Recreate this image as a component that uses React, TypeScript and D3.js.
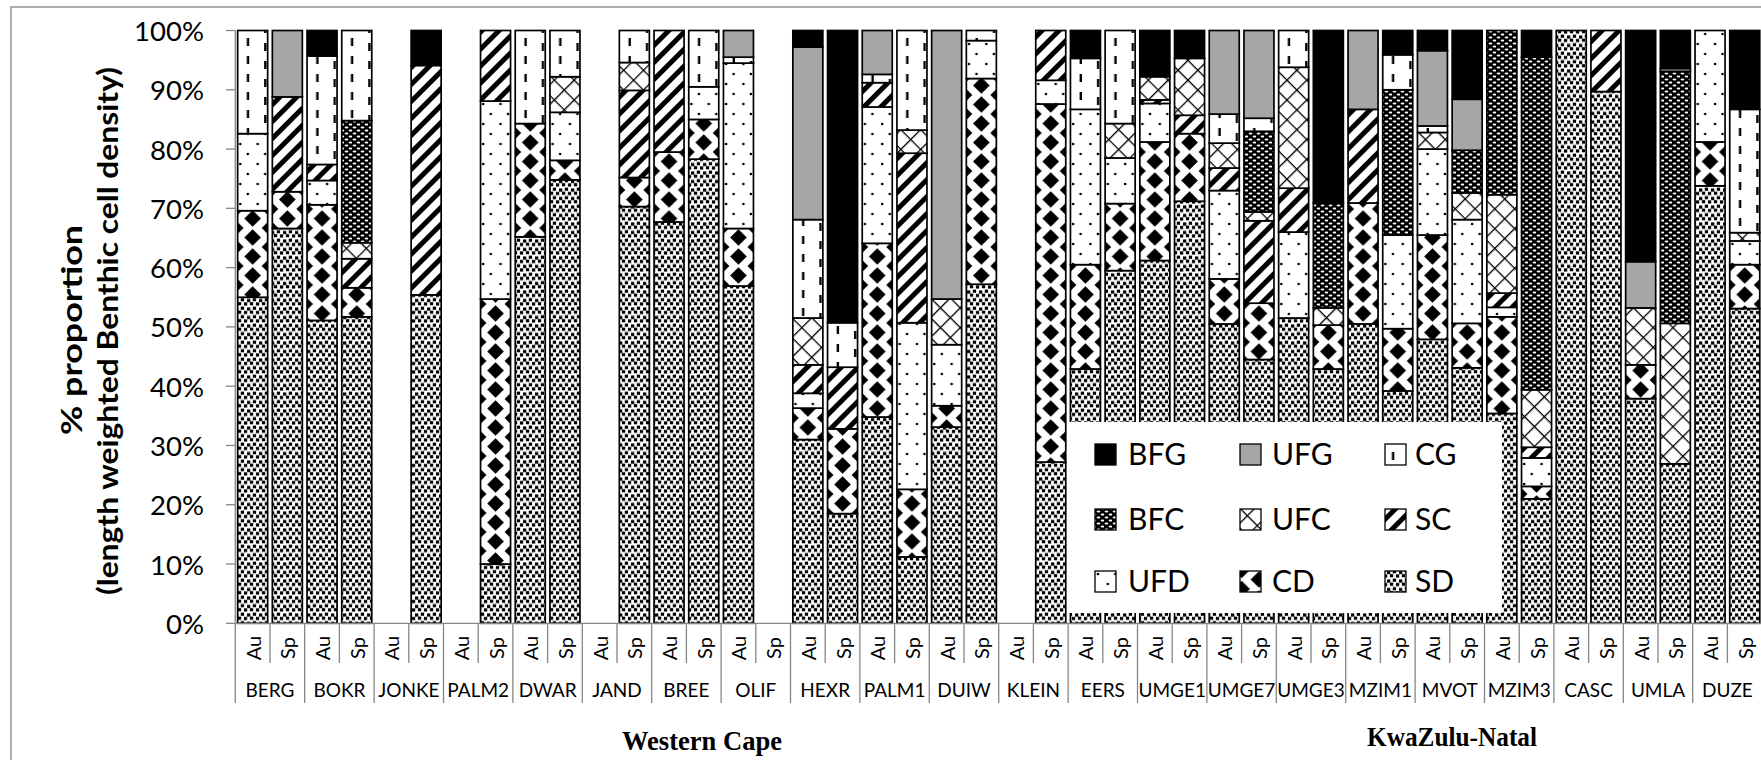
import React from "react";
import * as d3 from "d3";

// Sites along the x axis, each sampled in autumn (Au) and spring (Sp)
const sites = [
  "BERG", "BOKR", "JONKE", "PALM2", "DWAR", "JAND", "BREE", "OLIF", "HEXR", "PALM1", "DUIW",
  "KLEIN", "EERS", "UMGE1", "UMGE7", "UMGE3", "MZIM1", "MVOT", "MZIM3", "CASC", "UMLA", "DUZE",
];
const seasons = ["Au", "Sp"];

// Percent of length-weighted benthic cell density per functional group.
// One value per bar, in site order, Au then Sp.
const SD = [55, 66.6, 51.1, 51.7, 0, 55.4, 0, 10, 65.2, 74.8, 0, 70.3, 67.7, 78.3, 56.9, 0, 31, 18.5, 34.8, 11.2, 33.1, 57.2, 0, 27.2, 42.9, 59.5, 61.2, 71.2, 50.5, 44.5, 51.5, 42.9, 50.5, 39.2, 47.9, 43.1, 35.4, 21, 100, 89.7, 37.9, 26.9, 73.8, 53.1];
const CD = [14.6, 6.2, 19.5, 4.9, 0, 0, 0, 44.7, 19.1, 3.3, 0, 4.9, 11.8, 6.7, 9.7, 0, 5.3, 14.3, 29.3, 11.4, 3.6, 34.7, 0, 60.4, 17.6, 11.3, 20, 11.4, 7.6, 9.5, 0, 7.4, 20.4, 10.5, 17.6, 7.5, 16.3, 2.1, 0, 0, 5.7, 0, 7.4, 7.4];
const UFD = [13, 0, 4.1, 0, 0, 0, 0, 33.4, 0, 8.1, 0, 0, 0, 5.5, 27.9, 0, 2.5, 0, 23, 28.1, 10.3, 6.4, 0, 4, 26.2, 7.7, 6.5, 0, 14.9, 0, 14.5, 0, 0, 15.8, 14.5, 17.5, 1.6, 4.8, 0, 0, 0, 0, 18.8, 4];
const SC = [0, 16, 2.7, 4.9, 0, 38.7, 0, 11.9, 0, 0, 0, 14.7, 20.5, 0, 0, 0, 4.8, 10.4, 4.1, 28.6, 0, 0, 0, 8.4, 0, 0, 0.6, 3.1, 3.8, 13.9, 7.4, 0, 15.8, 0, 0, 0, 2.4, 1.8, 0, 10.3, 0, 0, 0, 0];
const UFC = [0, 0, 0, 2.7, 0, 0, 0, 0, 0, 6, 0, 4.7, 0, 0, 0, 0, 7.9, 0, 0, 3.9, 7.7, 0, 0, 0, 0, 5.8, 3.9, 9.6, 4.2, 1.5, 20.4, 2.9, 0, 0, 2.8, 4.5, 16.6, 9.7, 0, 0, 9.6, 23.7, 0, 1.4];
const BFC = [0, 0, 0, 20.6, 0, 0, 0, 0, 0, 0, 0, 0, 0, 0, 0, 0, 0, 0, 0, 0, 0, 0, 0, 0, 0, 0, 0, 0, 0, 13.6, 0, 17.7, 0, 24.5, 0, 7.2, 27.7, 56.1, 0, 0, 0, 42.5, 0, 0];
const CG = [17.4, 0, 18.3, 15.2, 0, 0, 0, 0, 15.7, 7.8, 0, 5.4, 0, 9.5, 1, 0, 16.6, 7.5, 1.4, 16.8, 0, 1.7, 0, 0, 8.6, 15.7, 0, 0, 4.9, 2.2, 6.2, 0, 0, 5.9, 1.1, 0, 0, 0, 0, 0, 0, 0, 0, 20.8];
const UFG = [0, 11.2, 0, 0, 0, 0, 0, 0, 0, 0, 0, 0, 0, 0, 4.5, 0, 29.1, 0, 7.4, 0, 45.3, 0, 0, 0, 0, 0, 0, 0, 14.1, 14.8, 0, 0, 13.3, 0, 12.7, 8.6, 0, 0, 0, 0, 7.8, 0.5, 0, 0];
const BFG = [0, 0, 4.3, 0, 0, 5.9, 0, 0, 0, 0, 0, 0, 0, 0, 0, 0, 2.8, 49.3, 0, 0, 0, 0, 0, 0, 4.7, 0, 7.8, 4.7, 0, 0, 0, 29.1, 0, 4.1, 3.4, 11.6, 0, 4.5, 0, 0, 39, 6.4, 0, 13.3];

// Stack order, bottom to top
const groups = ["SD", "CD", "UFD", "SC", "UFC", "BFC", "CG", "UFG", "BFG"];
const groupValues: Record<string, number[]> = { SD, CD, UFD, SC, UFC, BFC, CG, UFG, BFG };

// Legend grid, row by row
const legendRows = [
  ["BFG", "UFG", "CG"],
  ["BFC", "UFC", "SC"],
  ["UFD", "CD", "SD"],
];

const yTicks = [0, 0.1, 0.2, 0.3, 0.4, 0.5, 0.6, 0.7, 0.8, 0.9, 1];

const regionLabels = [
  { text: "Western Cape", cx: 702, y: 750, len: 160 },
  { text: "KwaZulu-Natal", cx: 1452, y: 746, len: 170 },
];

const FONT = "Lato, 'Open Sans', sans-serif";
const AXIS = "#868686";

export default function App() {
  const W = 1761;
  const H = 760;
  const plotLeft = 235.3;
  const plotRight = 1762.1;
  const yBottom = 623.3;
  const yTop = 30.5;

  const barIds = sites.flatMap((s) => seasons.map((se) => `${s}|${se}`));
  const rows = barIds.map((id, i) => {
    const r: Record<string, any> = { id };
    groups.forEach((g) => (r[g] = groupValues[g][i] / 100));
    return r;
  });
  const stacked = d3.stack<any>().keys(groups)(rows);

  const x = d3
    .scaleBand<string>()
    .domain(barIds)
    .range([plotLeft, plotRight])
    .paddingInner(0.135)
    .paddingOuter(0.0675);
  const y = d3.scaleLinear().domain([0, 1]).range([yBottom, yTop]);
  const step = x.step();
  const fmt = d3.format(".0%");

  const px = plotLeft; // pattern phase follows the category bands

  return (
    <svg
      width={W}
      height={H}
      viewBox={`0 0 ${W} ${H}`}
      style={{ position: "absolute", left: 0, top: 0, background: "#fff" }}
    >
      <defs>
        {/* SD: black squares scattered on white */}
        <pattern id="p-SD" patternUnits="userSpaceOnUse" width={12} height={8.5}>
          <rect width={12} height={8.5} fill="#fff" />
          <rect x={0.8} y={0.6} width={3.3} height={3.2} fill="#000" />
          <rect x={7} y={1.4} width={3.3} height={3.2} fill="#000" />
          <rect x={3.9} y={4.9} width={3.3} height={3.2} fill="#000" />
          <rect x={9.9} y={4.6} width={3.3} height={3.2} fill="#000" />
          <rect x={-2.1} y={4.6} width={3.3} height={3.2} fill="#000" />
        </pattern>
        {/* CD: large black diamonds in a checkerboard */}
        <pattern id="p-CD" patternUnits="userSpaceOnUse" x={px} y={0} width={step} height={19}>
          <rect width={step} height={19} fill="#fff" />
          <polygon points={`${step / 2},1.3 ${step / 2 + 8.3},9.5 ${step / 2},17.7 ${step / 2 - 8.3},9.5`} fill="#000" />
          <polygon points={`0,-8.2 8.3,0 0,8.2 -8.3,0`} fill="#000" />
          <polygon points={`${step},-8.2 ${step + 8.3},0 ${step},8.2 ${step - 8.3},0`} fill="#000" />
          <polygon points={`0,10.8 8.3,19 0,27.2 -8.3,19`} fill="#000" />
          <polygon points={`${step},10.8 ${step + 8.3},19 ${step},27.2 ${step - 8.3},19`} fill="#000" />
        </pattern>
        {/* UFD: sparse small dots */}
        <pattern id="p-UFD" patternUnits="userSpaceOnUse" x={px} y={0} width={step / 2} height={20}>
          <rect width={step / 2} height={20} fill="#fff" />
          <circle cx={5} cy={4} r={1.3} fill="#000" />
          <circle cx={12.5} cy={14} r={1.3} fill="#000" />
        </pattern>
        {/* SC: thick forward diagonal stripes */}
        <pattern id="p-SC" patternUnits="userSpaceOnUse" width={12} height={12} patternTransform="rotate(45)">
          <rect width={12} height={12} fill="#fff" />
          <rect x={0} y={0} width={5} height={12} fill="#000" />
        </pattern>
        {/* UFC: thin diagonal crosshatch */}
        <pattern id="p-UFC" patternUnits="userSpaceOnUse" width={14} height={14} patternTransform="rotate(45)">
          <rect width={14} height={14} fill="#fff" />
          <rect x={0} y={0} width={1.3} height={14} fill="#000" />
          <rect x={0} y={0} width={14} height={1.3} fill="#000" />
        </pattern>
        {/* BFC: small white dashes on black */}
        <pattern id="p-BFC" patternUnits="userSpaceOnUse" width={8} height={6}>
          <rect width={8} height={6} fill="#000" />
          <ellipse cx={2.5} cy={1.5} rx={1.9} ry={0.9} fill="#fff" />
          <ellipse cx={6.5} cy={4.5} rx={1.9} ry={0.9} fill="#fff" />
        </pattern>
        {/* CG: staggered vertical dashes */}
        <pattern id="p-CG" patternUnits="userSpaceOnUse" x={px} y={0} width={step} height={18}>
          <rect width={step} height={18} fill="#fff" />
          <rect x={11.5} y={2} width={2.4} height={8} fill="#000" />
          <rect x={11.5 + step / 2} y={7} width={2.4} height={8} fill="#000" />
        </pattern>
        <pattern id="p-UFG" patternUnits="userSpaceOnUse" width={4} height={4}>
          <rect width={4} height={4} fill="#a6a6a6" />
        </pattern>
        <pattern id="p-BFG" patternUnits="userSpaceOnUse" width={4} height={4}>
          <rect width={4} height={4} fill="#000" />
        </pattern>
      </defs>

      {/* chart area border */}
      <rect x={11} y={7} width={1800} height={800} fill="none" stroke={AXIS} strokeWidth={1.3} />

      {/* y axis title */}
      <g fontFamily={FONT} fontWeight="bold" fontSize={29} fill="#000">
        <text
          transform="translate(70,330) rotate(-90)"
          textAnchor="middle"
          dominantBaseline="central"
          textLength={210}
          lengthAdjust="spacingAndGlyphs"
        >
          % proportion
        </text>
        <text
          transform="translate(106.5,331) rotate(-90)"
          textAnchor="middle"
          dominantBaseline="central"
          textLength={528}
          lengthAdjust="spacingAndGlyphs"
        >
          (length weighted Benthic cell density)
        </text>
      </g>

      {/* y axis */}
      <g fontFamily={FONT} fontSize={27.5} fill="#000">
        {yTicks.map((t) => (
          <g key={t}>
            <line x1={226} x2={plotLeft} y1={y(t)} y2={y(t)} stroke={AXIS} strokeWidth={1.3} />
            <text x={204} y={y(t)} textAnchor="end" dominantBaseline="central">
              {fmt(t)}
            </text>
          </g>
        ))}
        <line x1={plotLeft} x2={plotLeft} y1={yTop} y2={yBottom} stroke={AXIS} strokeWidth={1.3} />
      </g>

      {/* stacked bars */}
      <g>
        {stacked.map((layer) => (
          <g key={layer.key} fill={`url(#p-${layer.key})`}>
            {layer.map((d, i) => {
              const h = y(d[0]) - y(d[1]);
              if (h <= 0.01) return null;
              return (
                <rect
                  key={barIds[i]}
                  x={x(barIds[i])}
                  y={y(d[1])}
                  width={x.bandwidth()}
                  height={h}
                  stroke="#000"
                  strokeWidth={1.7}
                />
              );
            })}
          </g>
        ))}
      </g>

      {/* x axis with two-level category labels */}
      <g stroke={AXIS} strokeWidth={1.3}>
        <line x1={plotLeft} x2={plotRight} y1={yBottom} y2={yBottom} />
        {sites.map((s, k) => (
          <g key={s}>
            <line x1={plotLeft + 2 * k * step} x2={plotLeft + 2 * k * step} y1={yBottom} y2={703} />
            <line x1={plotLeft + (2 * k + 1) * step} x2={plotLeft + (2 * k + 1) * step} y1={yBottom} y2={663} />
          </g>
        ))}
      </g>
      <g fontFamily={FONT} fill="#000">
        {barIds.map((id) => {
          const cx = (x(id) as number) + x.bandwidth() / 2;
          return (
            <text
              key={id}
              fontSize={20}
              transform={`translate(${cx},648) rotate(-90)`}
              textAnchor="middle"
              dominantBaseline="central"
            >
              {id.split("|")[1]}
            </text>
          );
        })}
        {sites.map((s, k) => (
          <text key={s} fontSize={19} x={plotLeft + (2 * k + 1) * step} y={697} textAnchor="middle">
            {s}
          </text>
        ))}
      </g>

      {/* region labels */}
      <g fontFamily="'Liberation Serif', 'Times New Roman', serif" fontWeight="bold" fontSize={27} fill="#000">
        {regionLabels.map((r) => (
          <text key={r.text} x={r.cx} y={r.y} textAnchor="middle" textLength={r.len} lengthAdjust="spacingAndGlyphs">
            {r.text}
          </text>
        ))}
      </g>

      {/* legend */}
      <g>
        <rect x={1067} y={422} width={435} height={191} fill="#fff" />
        {legendRows.map((row, ri) =>
          row.map((g, ci) => {
            const sx = [1095, 1240, 1385][ci];
            const tx = [1128, 1272, 1415][ci];
            const base = [465, 530, 592][ri];
            return (
              <g key={g}>
                <rect x={sx} y={base - 21} width={21} height={21} fill={`url(#p-${g})`} stroke="#000" strokeWidth={1.3} />
                <text x={tx} y={base} fontFamily={FONT} fontSize={30} fill="#000">
                  {g}
                </text>
              </g>
            );
          })
        )}
      </g>
    </svg>
  );
}
